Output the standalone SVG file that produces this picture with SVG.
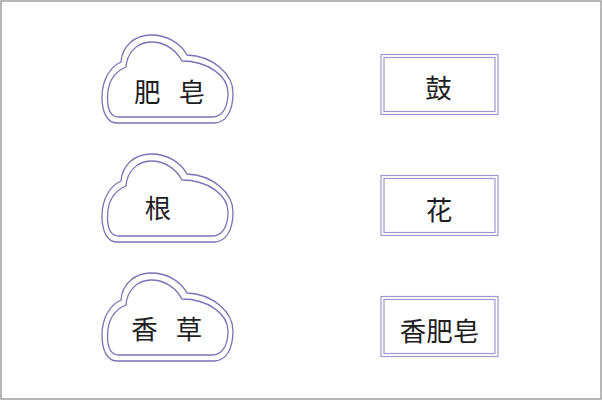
<svg xmlns="http://www.w3.org/2000/svg" xmlns:xlink="http://www.w3.org/1999/xlink" width="602" height="400" viewBox="0 0 602 400">
<style>
.cl{fill:none;stroke:#7d70b5;stroke-width:1.3}
.bx{fill:none;stroke:#9f98cc;stroke-width:1.2}
.t{font-family:"Noto Sans CJK SC","Noto Sans",sans-serif;font-size:26.5px;fill:#1e1e1e;text-anchor:middle;dominant-baseline:central}
</style>
<defs>
<path id="cloudOuter" d="M15,88 C5,88 0,77 0,62 C0,45 8,32 19,27 C20,11 33,0 49,0 C66,0 79,9 85,20 C111,21 131,39 131,58 C131,76 124,88 112,88 Z"/>
<path id="cloudInner" d="M17,82 C9,82 5.5,75 5.5,63 C5.5,48 12,37 24,32 C25,17 36,7 49,7 C63,7 74,15 80,26 C106,26 126,41 126,58 C126,73 120,82 110,82 Z"/>
</defs>
<rect x="0" y="0" width="602" height="400" fill="#fff"/>
<rect x="1" y="1" width="600" height="398" fill="none" stroke="#a0a0a0" stroke-width="1.5"/>
<g id="connectors"></g>
<g id="n-feizao">
<use xlink:href="#cloudOuter" class="cl" transform="translate(102,35)"/>
<use xlink:href="#cloudInner" class="cl" transform="translate(102,35)"/>
<text class="t" x="169.5" y="90" word-spacing="12">肥 皂</text>
</g>
<g id="n-gen">
<use xlink:href="#cloudOuter" class="cl" transform="translate(102,154)"/>
<use xlink:href="#cloudInner" class="cl" transform="translate(102,154)"/>
<text class="t" x="158" y="206">根</text>
</g>
<g id="n-xiangcao">
<use xlink:href="#cloudOuter" class="cl" transform="translate(102,273)"/>
<use xlink:href="#cloudInner" class="cl" transform="translate(102,273)"/>
<text class="t" x="166.7" y="327.5" word-spacing="12">香 草</text>
</g>
<g id="n-gu">
<rect class="bx" x="381" y="54.5" width="117" height="60"/>
<rect class="bx" x="384" y="57.5" width="111" height="54"/>
<text class="t" x="438.5" y="86">鼓</text>
</g>
<g id="n-hua">
<rect class="bx" x="381" y="175.5" width="117" height="60"/>
<rect class="bx" x="384" y="178.5" width="111" height="54"/>
<text class="t" x="439" y="208">花</text>
</g>
<g id="n-xiangfeizao">
<rect class="bx" x="381" y="296.5" width="117" height="60"/>
<rect class="bx" x="384" y="299.5" width="111" height="54"/>
<text class="t" x="439.5" y="329">香肥皂</text>
</g>
</svg>
